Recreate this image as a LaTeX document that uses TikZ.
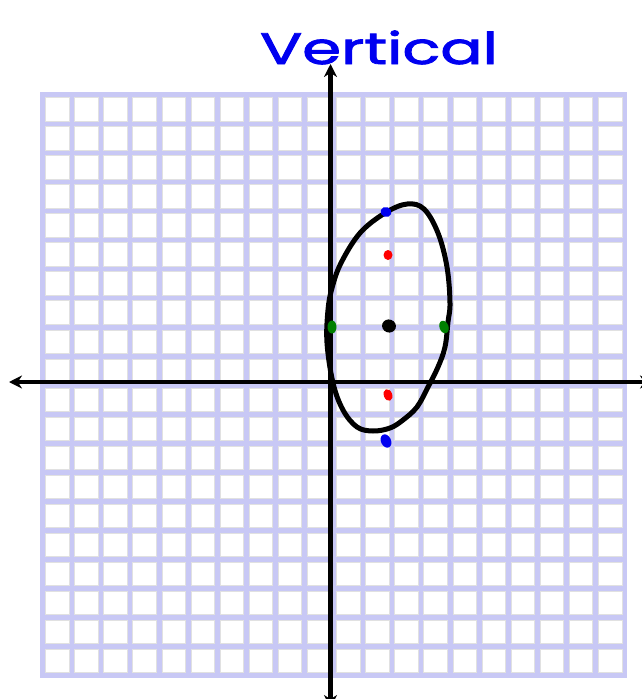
\documentclass[tikz,border=0pt]{standalone}
\usepackage{fontspec}
\newfontfamily\handfont[FakeBold=1.8]{Poppins}
\usetikzlibrary{arrows.meta}
\definecolor{gridlav}{RGB}{200,200,245}
\definecolor{cellgray}{RGB}{225,225,225}
\definecolor{penblue}{RGB}{0,0,240}
\definecolor{penred}{RGB}{255,0,0}
\definecolor{pengreen}{RGB}{0,128,0}
\tikzset{
  axisline/.style={line width=4.5pt, black, {Stealth[length=13pt,width=13pt]}-{Stealth[length=13pt,width=13pt]}},
  curveline/.style={line width=5pt, black},
  cellbox/.style={fill=white, draw=cellgray, line width=1pt},
  dotmark/.style={inner sep=0pt, outer sep=0pt}
}
\begin{document}
\begin{tikzpicture}[x=1pt,y=-1pt]
\useasboundingbox (0,0) rectangle (642,699);
\clip (0,0) rectangle (642,699);
\fill[white] (0,0) rectangle (642,699);
% grid
\fill[gridlav] (40,92) rectangle (627,678);
\foreach \i in {0,...,19}{
  \foreach \j in {0,...,19}{
    \draw[cellbox] ({45.6+\i*29.1},{97.6+\j*29.05}) rectangle ({45.6+\i*29.1+23.5},{97.6+\j*29.05+23.4});
  }
}
% axes
\coordinate (ytop) at (330.5,64);
\coordinate (ybot) at (330.5,708);
\coordinate (xleft) at (9,382);
\coordinate (xright) at (653,382);
\draw[axisline] (ybot) -- (ytop);
\draw[axisline] (xleft) -- (xright);
% label
\node[penblue, font=\handfont\fontsize{44}{44}\selectfont, anchor=base, xscale=1.42, inner sep=0pt] (vlabel) at (379,64) {Vertical};
% ellipse
\draw[curveline] plot[smooth cycle, tension=0.6] coordinates {
  (407,204) (424,209) (438,233) (447,267) (450,303) (448,322) (445,347)
  (438,367) (428,387) (417,407) (403,420) (390,428) (373,431) (357,427)
  (343,410) (333,383) (327,343) (328,310) (332,288) (341,263) (360,233) (385,213)};
% dots
\fill[penblue, rotate around={-20:(386,212)}] (386,212) ellipse (5.5 and 5);
\fill[penblue, rotate around={25:(386,441)}] (386,441) ellipse (5 and 7);
\fill[penred] (388,255) ellipse (4.5 and 5);
\fill[penred, rotate around={20:(388,395)}] (388,395) ellipse (4.2 and 6);
\fill[pengreen] (332,327) ellipse (4.5 and 6.5);
\fill[pengreen, rotate around={20:(444,327)}] (444,327) ellipse (4.5 and 6.5);
\fill[black, rotate around={-20:(389,326)}] (389,326) ellipse (7 and 6.5);
\end{tikzpicture}
\end{document}
